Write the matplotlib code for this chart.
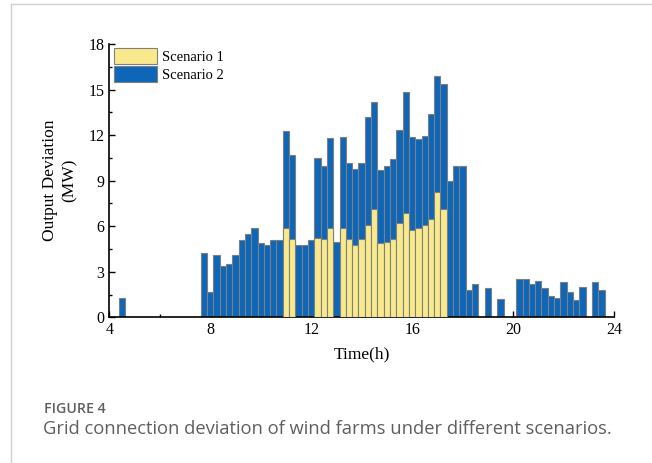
import matplotlib.pyplot as plt
from matplotlib.ticker import MultipleLocator
import numpy as np

# time of each 15-min bar (h)
Tiempo = [4.5,
          7.75, 8.0, 8.25, 8.5, 8.75, 9.0, 9.25, 9.5, 9.75, 10.0, 10.25, 10.5, 10.75,
          11.0, 11.25, 11.5, 11.75, 12.0, 12.25, 12.5, 12.75, 13.0, 13.25, 13.5, 13.75,
          14.0, 14.25, 14.5, 14.75, 15.0, 15.25, 15.5, 15.75, 16.0, 16.25, 16.5, 16.75,
          17.0, 17.25, 17.5, 17.75, 18.0, 18.25, 18.5, 19.0, 19.5,
          20.25, 20.5, 20.75, 21.0, 21.25, 21.5, 21.75, 22.0, 22.25, 22.5, 22.75,
          23.25, 23.5]

Escenario2 = [1.3,
              4.25, 1.67, 4.08, 3.38, 3.49, 4.08, 5.09, 5.49, 5.88, 4.89, 4.78, 5.07, 5.07,
              12.3, 10.69, 4.78, 4.78, 5.07, 10.5, 9.99, 11.79, 4.94, 11.9, 10.19, 9.79,
              10.19, 13.2, 14.2, 9.7, 9.99, 10.41, 12.34, 14.82, 11.88, 11.77, 11.94, 13.37,
              15.92, 15.35, 8.98, 9.99, 9.99, 1.8, 2.22, 1.93, 1.2,
              2.53, 2.53, 2.22, 2.39, 1.93, 1.38, 1.25, 2.31, 1.67, 1.12, 2.0,
              2.31, 1.8]

Escenario1 = [0,
              0, 0, 0, 0, 0, 0, 0, 0, 0, 0, 0, 0, 0,
              5.9, 5.16, 0, 0, 0, 5.25, 5.16, 5.86, 0, 5.86, 5.16, 4.76,
              5.16, 6.08, 7.15, 4.87, 4.96, 5.16, 6.21, 6.85, 5.75, 5.86, 6.08, 6.48,
              8.25, 7.15, 0, 0, 0, 0, 0, 0, 0,
              0, 0, 0, 0, 0, 0, 0, 0, 0, 0, 0,
              0, 0]

azul = '#0d66b8'
amarillo = '#f8ea8c'
borde = '#7f7f7f'

plt.rcParams['font.family'] = ['Liberation Serif', 'DejaVu Serif']

fig = plt.figure(figsize=(6.52, 4.63), dpi=100)
ax = fig.add_axes([0.1676, 0.3147, 0.7741, 0.5903])

ax.bar(Tiempo, Escenario2, width=0.25, color=azul, edgecolor=borde, linewidth=0.8,
       label='Scenario 2', zorder=2)
s1 = np.array(Escenario1, dtype=float)
t1 = np.array(Tiempo)
m = s1 > 0
ax.bar(t1[m], s1[m], width=0.25, color=amarillo, edgecolor=borde, linewidth=0.8,
       label='Scenario 1', zorder=3)

ax.set_xlim(4, 24)
ax.set_ylim(0, 18)
ax.xaxis.set_major_locator(MultipleLocator(4))
ax.xaxis.set_minor_locator(MultipleLocator(2))
ax.yaxis.set_major_locator(MultipleLocator(3))
ax.yaxis.set_minor_locator(MultipleLocator(1.5))
ax.tick_params(which='both', direction='in', labelsize=11.5, width=1)
ax.tick_params(which='major', length=4)
ax.tick_params(which='minor', length=2.5)
ax.spines['top'].set_visible(False)
ax.spines['right'].set_visible(False)
ax.spines['left'].set_linewidth(1.2)
ax.spines['bottom'].set_linewidth(1.2)

ax.set_xlabel('Time(h)', fontsize=12.5, labelpad=6)
ax.set_ylabel('Output Deviation\n(MW)', fontsize=12.5, labelpad=8, linespacing=1.3)

h, l = ax.get_legend_handles_labels()
ax.legend(h[::-1], l[::-1], loc='upper left', frameon=False, fontsize=10.5,
          handlelength=3.0, handleheight=1.3, borderaxespad=0.2, labelspacing=0.15,
          handletextpad=0.3, borderpad=0.1)

# page frame and caption
fig.add_artist(plt.Line2D([11/652, 11/652], [0, 1 - 4/463], color='#d0d0d0', lw=1))
fig.add_artist(plt.Line2D([11/652, 1], [1 - 4/463, 1 - 4/463], color='#d0d0d0', lw=1))
fig.text(44/652, 1 - 409/463, 'FIGURE 4', fontsize=10.2, color='#5f5f5f',
         family='Open Sans', weight='semibold', va='center')
fig.text(43/652, 1 - 429/463,
         'Grid connection deviation of wind farms under different scenarios.',
         fontsize=13.2, color='#5f5f5f', family='Open Sans', va='center')

plt.savefig('out.png', dpi=100)
